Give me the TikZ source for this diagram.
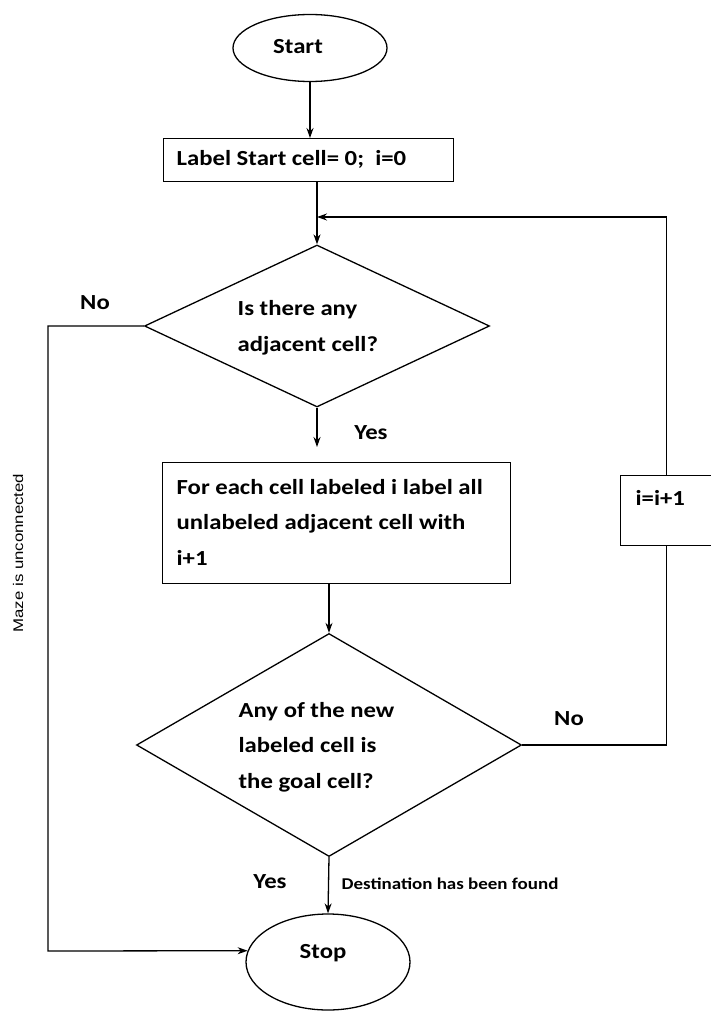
\documentclass[tikz,border=0pt]{standalone}
\usepackage{fontspec}
\setmainfont{Carlito}[FakeStretch=1.15]
\newfontfamily\smallsans{Liberation Sans}[FakeStretch=1.2]
\usetikzlibrary{shapes.geometric,arrows.meta}
\begin{document}
\begin{tikzpicture}[x=1pt,y=-1pt,
  line width=1.3pt,
  every node/.style={font=\fontsize{21.5}{35.5}\selectfont\bfseries, inner sep=0pt},
  term/.style={draw, ellipse, minimum width=#1},
  procbox/.style={draw, rectangle, anchor=north west},
  decision/.style={draw, diamond, inner sep=0pt},
  lbl/.style={anchor=west, align=left},
  arr/.style={-{Stealth[length=10pt,width=7pt]}},
]
\useasboundingbox (0,0) rectangle (711,1011);

% terminals
\node[term=154, minimum height=67] (start) at (310,48) {};
\node (starttxt) at (298,47) {Start};
\node[term=164, minimum height=96] (stop) at (328,962) {};
\node (stoptxt) at (323,953) {Stop};

% process boxes
\node[procbox, minimum width=290, minimum height=43] (init) at (163,138) {};
\node[lbl] (inittxt) at (176,159) {Label Start cell= 0;\ \ i=0};

\node[procbox, minimum width=348, minimum height=121] (mark) at (162,462) {};
\node[lbl] (marktxt) at (176,522) {For each cell labeled i label all\\unlabeled adjacent cell with\\i+1};

\node[procbox, minimum width=91, minimum height=70] (inc) at (620,475) {};
\node[lbl] (inctxt) at (635,498) {i=i+1};

% decisions
\node[decision, minimum width=345, minimum height=162] (d1) at (317,326) {};
\node[lbl] (d1txt) at (237,328) {Is there any\\adjacent cell?};

\node[decision, minimum width=385, minimum height=223] (d2) at (329,745) {};
\node[lbl] (d2txt) at (238,747) {Any of the new\\labeled cell is\\the goal cell?};

% connector points
\coordinate (loopin) at (317,217);
\coordinate (yesend) at (317,447);
\coordinate (leftdown) at (48,951);

% connectors
\draw[arr] (start.south) -- (start.south |- init.north);
\draw[arr] (d1.north |- init.south) -- (d1.north);
\draw[arr] (d1.south) -- (yesend);
\draw[arr] (d2.north |- mark.south) -- (d2.north);
\draw (d2.east) -| (inc.south);
\draw[arr] (inc.north) |- (loopin);
\draw[arr] (d1.west) -| (leftdown) -- (stop.172);
\draw[arr] (d2.south) -- (stop.north);

% branch labels
\node (no1) at (95,303) {No};
\node (yes1) at (371,433) {Yes};
\node (no2) at (569,719) {No};
\node (yes2) at (270,882) {Yes};
\node[anchor=west, font=\fontsize{16.5}{18}\selectfont\bfseries] (found) at (341,884) {Destination has been found};
\node[rotate=90, font=\smallsans\fontsize{14}{16}\selectfont] (unconn) at (18,553) {Maze is unconnected};
\end{tikzpicture}
\end{document}
